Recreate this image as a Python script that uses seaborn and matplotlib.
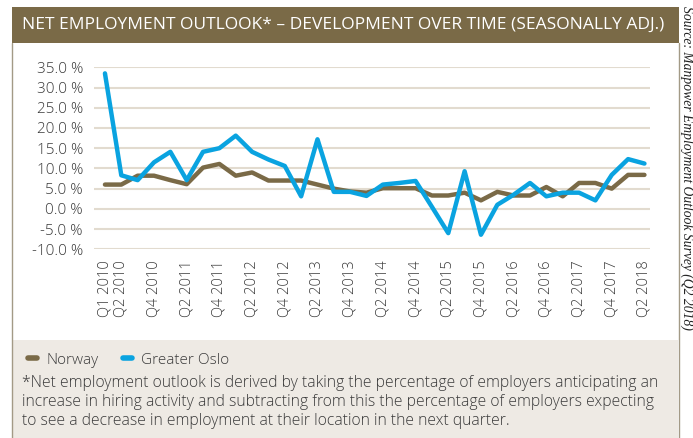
import numpy as np
import pandas as pd
import matplotlib
matplotlib.use("Agg")
import matplotlib.pyplot as plt
import seaborn as sns
from matplotlib.patches import Rectangle
from matplotlib.lines import Line2D
from matplotlib.ticker import FuncFormatter

# Data (net employment outlook, %)
quarters = [f"Q{q} {y}" for y in range(2010, 2019) for q in range(1, 5)][:34]
norway = [6.0, 6.0, 8.2, 8.2, 7.1, 6.1, 10.2, 11.1, 8.2, 9.0, 7.0, 7.0,
          7.0, 6.0, 5.0, 4.3, 4.0, 5.1, 5.1, 5.1, 3.3, 3.3, 4.0, 2.1,
          4.2, 3.3, 3.3, 5.4, 3.1, 6.4, 6.4, 5.0, 8.4, 8.4]
greater_oslo = [33.5, 8.3, 7.1, 11.5, 14.1, 7.1, 14.1, 15.0, 18.1, 14.1, 12.2, 10.6,
                3.1, 17.2, 4.2, 4.2, 3.2, 6.0, 6.4, 6.9, 0.5, -6.0, 9.3, -6.4,
                1.0, 3.5, 6.4, 3.1, 4.0, 4.0, 2.1, 8.4, 12.3, 11.2]
tick_idx = [0] + list(range(1, 34, 2))
y_ticks = list(range(-10, 40, 5))

title = "NET EMPLOYMENT OUTLOOK* \u2013 DEVELOPMENT OVER TIME (SEASONALLY ADJ.)"
footnote = ("*Net employment outlook is derived by taking the percentage of employers anticipating an\n"
            "increase in hiring activity and subtracting from this the percentage of employers expecting\n"
            "to see a decrease in employment at their location in the next quarter.")
source = "Source: Manpower Employment Outlook Survey (Q2 2018)"

olive = "#7a6a47"
blue = "#0aa3e0"
beige = "#eeeae4"
grid_c = "#e2dbcf"
text_c = "#3a3a3a"

df = pd.DataFrame({
    "idx": list(range(34)) * 2,
    "value": norway + greater_oslo,
    "series": ["Norway"] * 34 + ["Greater Oslo"] * 34,
})

sns.set_style("white")
plt.rcParams["font.family"] = ["Open Sans", "DejaVu Sans"]

W, H = 693, 438
fig = plt.figure(figsize=(W / 100, H / 100), dpi=100)
fig.patch.set_facecolor("white")

def fx(px):
    return px / W

def fy(py):
    return 1 - py / H

# footer box and title bar
fig.patches.append(Rectangle((fx(13), 0), fx(678) - fx(13), fy(340), transform=fig.transFigure,
                             facecolor=beige, edgecolor="none", zorder=0))
fig.patches.append(Rectangle((fx(12), fy(43)), fx(679) - fx(12), fy(7) - fy(43), transform=fig.transFigure,
                             facecolor=olive, edgecolor="none", zorder=1))
for x in (12.5, 678.5):
    fig.lines.append(Line2D([fx(x), fx(x)], [0, fy(43)], transform=fig.transFigure,
                            color="#a39a86", lw=1.0))

ax = fig.add_axes([fx(94), fy(249.3), fx(650) - fx(94), fy(67.3) - fy(249.3)])
ax.set_facecolor("none")
sns.lineplot(data=df, x="idx", y="value", hue="series", palette=[olive, blue],
             linewidth=3.2, ax=ax, legend=False, zorder=3)

ax.set_xlim(-0.67, 33.34)
ax.set_ylim(-10, 35)
ax.set_yticks(y_ticks)
ax.yaxis.set_major_formatter(FuncFormatter(lambda v, p: f"{v:.1f} %"))
ax.set_xticks(tick_idx)
ax.set_xticklabels([quarters[i] for i in tick_idx], rotation=90)
for s in ax.spines.values():
    s.set_visible(False)
for v in y_ticks:
    ax.axhline(v, color=grid_c, lw=1.5, zorder=1)
ax.tick_params(axis="y", length=0, pad=8, labelsize=11, labelcolor=text_c)
ax.tick_params(axis="x", length=4, width=1, color=grid_c, pad=4, labelsize=10.5, labelcolor=text_c)
for lab in ax.get_yticklabels() + ax.get_xticklabels():
    lab.set_fontweight("light")
ax.set_xlabel("")
ax.set_ylabel("")

fig.text(fx(22), fy(25), title, color="white", fontsize=12.5, va="center", ha="left")

handles = [Line2D([], [], color=olive, lw=4, solid_capstyle="round"),
           Line2D([], [], color=blue, lw=4, solid_capstyle="round")]
fig.legend(handles, ["Norway", "Greater Oslo"], loc="center left",
           bbox_to_anchor=(fx(14), fy(360)), ncol=2, frameon=False,
           handlelength=0.6, handletextpad=0.6, columnspacing=1.6,
           prop={"size": 11, "weight": "light"}, labelcolor=text_c)
fig.text(fx(22), fy(402), footnote, color=text_c, fontsize=11.3, fontweight="light",
         va="center", ha="left", linespacing=1.22)
fig.text(fx(687), fy(6), source, rotation=-90, ha="center", va="top", color="#222222",
         fontsize=9.8, family=["Liberation Serif", "DejaVu Serif"], style="italic")

fig.savefig("out.png", dpi=100)
